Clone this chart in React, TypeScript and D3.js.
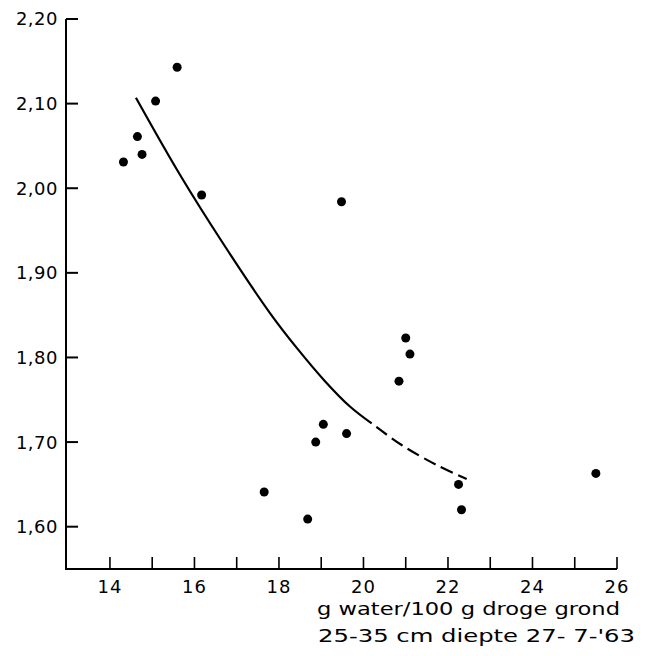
import React from "react";
import * as d3 from "d3";

const pointsX = [14.32, 14.65, 14.76, 15.08, 15.59, 16.17, 17.65, 18.68, 18.87, 19.05, 19.6, 19.48, 20.84, 21.0, 21.1, 22.25, 22.32, 25.5];
const pointsY = [2.031, 2.061, 2.04, 2.103, 2.143, 1.992, 1.641, 1.609, 1.7, 1.721, 1.71, 1.984, 1.772, 1.823, 1.804, 1.65, 1.62, 1.663];

const solidCurveX = [14.615, 15.657, 16.675, 17.787, 18.426, 19.089, 19.68, 20.194];
const solidCurveY = [2.107, 2.016, 1.935, 1.8525, 1.811, 1.772, 1.742, 1.722];
const dashedCurveX = [20.194, 20.904, 21.733, 22.443];
const dashedCurveY = [1.722, 1.6965, 1.6729, 1.6564];

const xTicks = [14, 15, 16, 17, 18, 19, 20, 21, 22, 23, 24, 25, 26];
const xTickLabels = ["14", "16", "18", "20", "22", "24", "26"];
const xTickLabelValues = [14, 16, 18, 20, 22, 24, 26];
const yTicks = [1.6, 1.7, 1.8, 1.9, 2.0, 2.1, 2.2];
const yTickLabels = ["1,60", "1,70", "1,80", "1,90", "2,00", "2,10", "2,20"];
const titleLine1 = "g water/100 g droge grond";
const titleLine2 = "25-35 cm diepte  27- 7-'63";

const W = 651;
const H = 656;
const FONT = "'DejaVu Sans', sans-serif";

export default function App() {
  const x = d3.scaleLinear().domain([12.96, 26]).range([66, 617]);
  const y = d3.scaleLinear().domain([1.55, 2.2]).range([569, 19]);

  const line = d3
    .line<[number, number]>()
    .x((d) => x(d[0]))
    .y((d) => y(d[1]))
    .curve(d3.curveCatmullRom.alpha(0.5));

  const solidPts: [number, number][] = solidCurveX.map((v, i) => [v, solidCurveY[i]]);
  const dashedPts: [number, number][] = dashedCurveX.map((v, i) => [v, dashedCurveY[i]]);

  const x0 = x.range()[0];
  const x1 = x.range()[1];
  const y0 = y.range()[0];
  const yTop = y.range()[1];

  return (
    <div style={{ position: "absolute", left: 0, top: 0 }}>
      <svg width={W} height={H} style={{ display: "block", background: "#fff" }}>
        <rect x={0} y={0} width={W} height={H} fill="#fff" />
        {/* axes */}
        <line x1={x0} y1={yTop} x2={x0} y2={y0 + 1} stroke="#000" strokeWidth={2} />
        <line x1={x0 - 1} y1={y0} x2={x1} y2={y0} stroke="#000" strokeWidth={2} />
        {yTicks.map((t) => (
          <line key={"yt" + t} x1={x0} x2={x0 + 12} y1={y(t)} y2={y(t)} stroke="#000" strokeWidth={2} />
        ))}
        {xTicks.map((t) => (
          <line key={"xt" + t} x1={x(t)} x2={x(t)} y1={y0} y2={y0 - 12} stroke="#000" strokeWidth={1.6} />
        ))}
        {yTicks.map((t, i) => (
          <text
            key={"yl" + t}
            x={58}
            y={y(t)}
            dy="0.36em"
            textAnchor="end"
            fontFamily={FONT}
            fontSize={18}
            letterSpacing={0.5}
            fill="#000"
          >
            {yTickLabels[i]}
          </text>
        ))}
        {xTickLabelValues.map((t, i) => (
          <text
            key={"xl" + t}
            x={x(t)}
            y={593}
            textAnchor="middle"
            fontFamily={FONT}
            fontSize={18}
            letterSpacing={1}
            fill="#000"
          >
            {xTickLabels[i]}
          </text>
        ))}
        <text x={317} y={615} fontFamily={FONT} fontSize={18} textLength={303} lengthAdjust="spacingAndGlyphs" fill="#000">
          {titleLine1}
        </text>
        <text x={318} y={642} fontFamily={FONT} fontSize={18} textLength={317} lengthAdjust="spacingAndGlyphs" fill="#000">
          {titleLine2}
        </text>
        {/* curve */}
        <path d={line(solidPts) || ""} fill="none" stroke="#000" strokeWidth={2.2} />
        <path
          d={line(dashedPts) || ""}
          fill="none"
          stroke="#000"
          strokeWidth={2.2}
          strokeDasharray="13,6"
          strokeDashoffset={13}
        />
        {/* points */}
        {pointsX.map((v, i) => (
          <circle key={"p" + i} cx={x(v)} cy={y(pointsY[i])} r={4.5} fill="#000" />
        ))}
      </svg>
    </div>
  );
}
